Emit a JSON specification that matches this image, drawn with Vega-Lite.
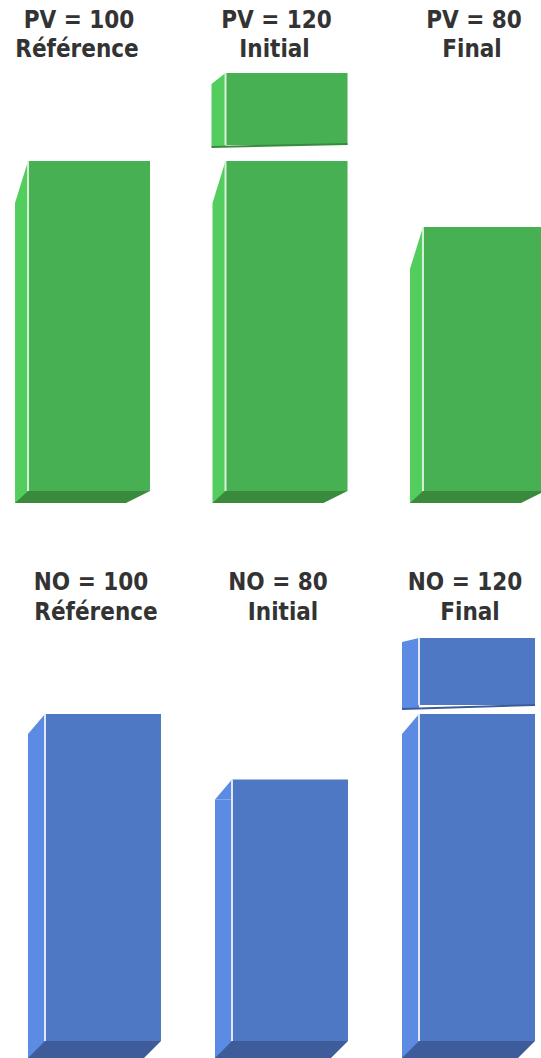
{
  "$schema": "https://vega.github.io/schema/vega-lite/v6.json",
  "padding": 0,
  "spacing": 0,
  "background": "white",
  "config": {"view": {"stroke": null}, "axis": {"disable": true}},
  "datasets": {
    "pv": [
      {"stage": "Référence", "label": "PV = 100", "part": "base", "lo": 0, "hi": 100},
      {"stage": "Initial", "label": "PV = 120", "part": "base", "lo": 0, "hi": 100},
      {"stage": "Initial", "label": "PV = 120", "part": "extra", "lo": 100, "hi": 120},
      {"stage": "Final", "label": "PV = 80", "part": "base", "lo": 0, "hi": 80}
    ],
    "no": [
      {"stage": "Référence", "label": "NO = 100", "part": "base", "lo": 0, "hi": 100},
      {"stage": "Initial", "label": "NO = 80", "part": "base", "lo": 0, "hi": 80},
      {"stage": "Final", "label": "NO = 120", "part": "base", "lo": 0, "hi": 100},
      {"stage": "Final", "label": "NO = 120", "part": "extra", "lo": 100, "hi": 120}
    ]
  },
  "vconcat": [
    {
      "width": 541,
      "height": 528,
      "data": {"name": "pv"},
      "encoding": {
        "x": {"field": "stage", "type": "nominal", "sort": ["Référence", "Initial", "Final"], "axis": null,
              "scale": {"type": "band", "domain": ["Référence", "Initial", "Final"], "range": [28, 545], "paddingInner": 0.382, "paddingOuter": 0}},
        "y": {"field": "hi", "type": "quantitative", "axis": null, "scale": {"domain": [-11.21, 148.79], "nice": false, "zero": false}}
      },
      "layer": [
        {"transform": [{"filter": "datum.part == 'base'"}],
         "mark": {"type": "bar", "clip": true, "color": "#54cd5f", "width": 13, "xOffset": -67.5, "yOffset": 42, "y2Offset": 12},
         "encoding": {"y2": {"field": "lo"}}},
        {"transform": [{"filter": "datum.part == 'base'"}],
         "mark": {"type": "point", "clip": true, "shape": "M-74,42 L-61,0 L-61,42 Z", "size": 4, "filled": true, "opacity": 1, "strokeWidth": 0, "color": "#54cd5f"}},
        {"transform": [{"filter": "datum.part == 'base'"}],
         "mark": {"type": "bar", "clip": true, "color": "#47b052"},
         "encoding": {"y2": {"field": "lo"}}},
        {"transform": [{"filter": "datum.part == 'base'"}],
         "mark": {"type": "bar", "clip": true, "color": "#d6f0d8", "width": 2, "xOffset": -61},
         "encoding": {"y2": {"field": "lo"}}},
        {"transform": [{"filter": "datum.part == 'base'"}],
         "mark": {"type": "point", "clip": true, "shape": "M-61,0 L61,0 L37,12 L-74,12 Z", "size": 4, "filled": true, "opacity": 1, "strokeWidth": 0, "color": "#3a8a3e"},
         "encoding": {"y": {"field": "lo", "type": "quantitative", "axis": null, "scale": {"domain": [-11.21, 148.79], "nice": false, "zero": false}}}},

        {"transform": [{"filter": "datum.part == 'extra'"}],
         "mark": {"type": "bar", "clip": true, "color": "#54cd5f", "width": 14, "xOffset": -68, "yOffset": -11, "y2Offset": -14},
         "encoding": {"y2": {"field": "lo"}}},
        {"transform": [{"filter": "datum.part == 'extra'"}],
         "mark": {"type": "point", "clip": true, "shape": "M-75,-11 L-61,-22 L-61,-11 Z", "size": 4, "filled": true, "opacity": 1, "strokeWidth": 0, "color": "#54cd5f"}},
        {"transform": [{"filter": "datum.part == 'extra'"}],
         "mark": {"type": "bar", "clip": true, "color": "#47b052", "yOffset": -22, "y2Offset": -16},
         "encoding": {"y2": {"field": "lo"}}},
        {"transform": [{"filter": "datum.part == 'extra'"}],
         "mark": {"type": "bar", "clip": true, "color": "#d6f0d8", "width": 2, "xOffset": -61, "yOffset": -22, "y2Offset": -16},
         "encoding": {"y2": {"field": "lo"}}},
        {"transform": [{"filter": "datum.part == 'extra'"}],
         "mark": {"type": "point", "clip": true, "shape": "M-75,-15 L61,-18 L61,-16 L-75,-13 Z", "size": 4, "filled": true, "opacity": 1, "strokeWidth": 0, "color": "#3a8a3e"},
         "encoding": {"y": {"field": "lo", "type": "quantitative", "axis": null, "scale": {"domain": [-11.21, 148.79], "nice": false, "zero": false}}}},

        {"transform": [{"filter": "datum.part == 'base'"}],
         "mark": {"type": "text", "font": "DejaVu Sans Condensed, DejaVu Sans", "fontWeight": "bold", "fontSize": 24, "color": "#333333", "baseline": "alphabetic", "align": "center", "dx": -10},
         "encoding": {"y": {"datum": 140.3, "type": "quantitative", "axis": null, "scale": {"domain": [-11.21, 148.79], "nice": false, "zero": false}}, "text": {"field": "label"}}},
        {"transform": [{"filter": "datum.part == 'base'"}],
         "mark": {"type": "text", "font": "DejaVu Sans Condensed, DejaVu Sans", "fontWeight": "bold", "fontSize": 24, "color": "#333333", "baseline": "alphabetic", "align": "center", "dx": -12},
         "encoding": {"y": {"datum": 131.5, "type": "quantitative", "axis": null, "scale": {"domain": [-11.21, 148.79], "nice": false, "zero": false}}, "text": {"field": "stage"}}}
      ]
    },
    {
      "width": 541,
      "height": 530,
      "data": {"name": "no"},
      "encoding": {
        "x": {"field": "stage", "type": "nominal", "sort": ["Référence", "Initial", "Final"], "axis": null,
              "scale": {"type": "band", "domain": ["Référence", "Initial", "Final"], "range": [45, 535], "paddingInner": 0.3797, "paddingOuter": 0}},
        "y": {"field": "hi", "type": "quantitative", "axis": null, "scale": {"domain": [-5.2, 156.88], "nice": false, "zero": false}}
      },
      "layer": [
        {"transform": [{"filter": "datum.part == 'base'"}],
         "mark": {"type": "bar", "clip": true, "color": "#5b8be2", "width": 17, "xOffset": -66.5, "yOffset": 20, "y2Offset": 17},
         "encoding": {"y2": {"field": "lo"}}},
        {"transform": [{"filter": "datum.part == 'base'"}],
         "mark": {"type": "point", "clip": true, "shape": "M-75,20 L-58,0 L-58,20 Z", "size": 4, "filled": true, "opacity": 1, "strokeWidth": 0, "color": "#5b8be2"}},
        {"transform": [{"filter": "datum.part == 'base'"}],
         "mark": {"type": "bar", "clip": true, "color": "#4e78c4"},
         "encoding": {"y2": {"field": "lo"}}},
        {"transform": [{"filter": "datum.part == 'base'"}],
         "mark": {"type": "bar", "clip": true, "color": "#e0e8f7", "width": 2, "xOffset": -58},
         "encoding": {"y2": {"field": "lo"}}},
        {"transform": [{"filter": "datum.part == 'base'"}],
         "mark": {"type": "point", "clip": true, "shape": "M-58,0 L58,0 L41,17 L-75,17 Z", "size": 4, "filled": true, "opacity": 1, "strokeWidth": 0, "color": "#3e5c99"},
         "encoding": {"y": {"field": "lo", "type": "quantitative", "axis": null, "scale": {"domain": [-5.2, 156.88], "nice": false, "zero": false}}}},

        {"transform": [{"filter": "datum.part == 'extra'"}],
         "mark": {"type": "bar", "clip": true, "color": "#5b8be2", "width": 17, "xOffset": -66.5, "yOffset": -6.6, "y2Offset": -5},
         "encoding": {"y2": {"field": "lo"}}},
        {"transform": [{"filter": "datum.part == 'extra'"}],
         "mark": {"type": "point", "clip": true, "shape": "M-75,-6.6 L-58,-10.6 L-58,-6.6 Z", "size": 4, "filled": true, "opacity": 1, "strokeWidth": 0, "color": "#5b8be2"}},
        {"transform": [{"filter": "datum.part == 'extra'"}],
         "mark": {"type": "bar", "clip": true, "color": "#4e78c4", "yOffset": -10.6, "y2Offset": -9},
         "encoding": {"y2": {"field": "lo"}}},
        {"transform": [{"filter": "datum.part == 'extra'"}],
         "mark": {"type": "bar", "clip": true, "color": "#e0e8f7", "width": 2, "xOffset": -58, "yOffset": -10.6, "y2Offset": -9},
         "encoding": {"y2": {"field": "lo"}}},
        {"transform": [{"filter": "datum.part == 'extra'"}],
         "mark": {"type": "point", "clip": true, "shape": "M-75,-6 L58,-10 L58,-8 L-75,-4 Z", "size": 4, "filled": true, "opacity": 1, "strokeWidth": 0, "color": "#3e5c99"},
         "encoding": {"y": {"field": "lo", "type": "quantitative", "axis": null, "scale": {"domain": [-5.2, 156.88], "nice": false, "zero": false}}}},

        {"transform": [{"filter": "datum.part == 'base'"}],
         "mark": {"type": "text", "font": "DejaVu Sans Condensed, DejaVu Sans", "fontWeight": "bold", "fontSize": 24, "color": "#333333", "baseline": "alphabetic", "align": "center", "dx": -12},
         "encoding": {"y": {"datum": 137.9, "type": "quantitative", "axis": null, "scale": {"domain": [-5.2, 156.88], "nice": false, "zero": false}}, "text": {"field": "label"}}},
        {"transform": [{"filter": "datum.part == 'base'"}],
         "mark": {"type": "text", "font": "DejaVu Sans Condensed, DejaVu Sans", "fontWeight": "bold", "fontSize": 24, "color": "#333333", "baseline": "alphabetic", "align": "center", "dx": -7},
         "encoding": {"y": {"datum": 128.7, "type": "quantitative", "axis": null, "scale": {"domain": [-5.2, 156.88], "nice": false, "zero": false}}, "text": {"field": "stage"}}}
      ]
    }
  ]
}
